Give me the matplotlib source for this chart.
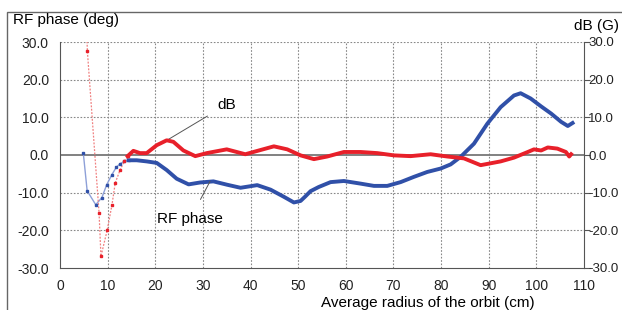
import matplotlib.pyplot as plt
from matplotlib.patches import Rectangle

plt.rcParams["font.family"] = ["Liberation Sans", "DejaVu Sans"]

# RF phase (deg) vs average radius (cm)
phase_r_sparse = [4.9, 5.7, 7.5, 8.8, 9.8, 10.9, 11.8, 12.6, 13.5, 14.4]
phase_sparse = [0.4, -9.5, -13.2, -11.3, -7.9, -5.2, -3.3, -2.3, -1.7, -1.4]
phase_r = [14.4, 16.1, 18.2, 20.3, 22.4, 24.5, 27.0, 29.4, 32.2, 35.1, 37.9,
           41.4, 44.2, 47.0, 49.1, 50.5, 51.5, 52.6, 54.3, 56.8, 59.6, 63.1,
           65.9, 68.7, 71.5, 74.3, 77.1, 79.9, 82.0, 84.1, 86.9, 89.7, 92.5,
           95.3, 96.7, 98.8, 101.0, 103.1, 105.2, 106.6, 107.6]
phase = [-1.4, -1.4, -1.7, -2.1, -4.0, -6.3, -7.8, -7.3, -7.0, -7.9, -8.7,
         -8.0, -9.2, -11.1, -12.6, -12.2, -11.0, -9.6, -8.5, -7.2, -6.9, -7.6,
         -8.2, -8.2, -7.2, -5.8, -4.5, -3.6, -2.5, -0.5, 3.0, 8.3, 12.7,
         15.8, 16.4, 15.0, 12.9, 11.0, 8.8, 7.7, 8.5]

# dB (G) vs average radius (cm)
db_r_sparse = [5.4, 5.75, 8.2, 8.6, 9.9, 10.9, 11.6, 12.6, 13.5, 14.2]
db_sparse = [40.0, 27.5, -15.4, -26.9, -20.0, -13.3, -7.4, -4.0, -1.7, -0.3]
db_r = [14.2, 15.4, 16.8, 18.2, 20.3, 22.4, 23.8, 25.9, 28.4, 30.8, 35.0,
        38.9, 40.6, 44.9, 47.7, 50.5, 53.3, 56.1, 59.6, 63.1, 66.6, 70.1,
        73.6, 77.8, 81.3, 84.8, 88.3, 92.5, 95.3, 98.2, 99.5, 101.0, 102.4,
        104.4, 106.2, 106.9, 107.3]
db = [-0.3, 1.1, 0.5, 0.5, 2.6, 3.9, 3.5, 1.2, -0.3, 0.5, 1.5,
      0.2, 0.8, 2.3, 1.5, -0.1, -1.1, -0.4, 0.8, 0.8, 0.5, -0.1,
      -0.3, 0.2, -0.4, -0.9, -2.7, -1.7, -0.7, 0.8, 1.5, 1.2, 2.0,
      1.7, 0.8, -0.4, 0.2]

x_ticks = list(range(0, 111, 10))
y_ticks = list(range(-30, 31, 10))

BLUE = "#3050a8"
RED = "#e8202a"

fig = plt.figure(figsize=(6.22, 3.10), dpi=100)
ax = fig.add_axes([60 / 622, 1 - 268 / 310, 524 / 622, 226 / 310])

# outer frame (cut off at right and bottom like the reference)
fig.patches.append(Rectangle((7 / 622, -0.1), 1.2, 1 - 12 / 310 + 0.1,
                             transform=fig.transFigure, fill=False,
                             edgecolor="#666666", linewidth=1.0))

ax.set_xlim(0, 110)
ax.set_ylim(-30, 30)
for x in x_ticks[1:-1]:
    ax.axvline(x, color="#888888", linestyle=(0, (1.5, 1.5)), linewidth=0.8, zorder=0)
for y in y_ticks[1:]:
    if y != 0:
        ax.axhline(y, color="#888888", linestyle=(0, (1.5, 1.5)), linewidth=0.8, zorder=0)
ax.axhline(0, color="#777777", linewidth=1.3, zorder=1)

ax.plot(phase_r_sparse, phase_sparse, color="#8ea0d8", linewidth=1.0, zorder=2)
ax.plot(phase_r_sparse, phase_sparse, "s", color=BLUE, markersize=2.0, zorder=3)
ax.plot(phase_r, phase, color=BLUE, linewidth=2.8, zorder=3)

ax.plot(db_r_sparse, db_sparse, color="#f08080", linewidth=0.9,
        linestyle=(0, (1.5, 1.2)), zorder=2)
ax.plot(db_r_sparse, db_sparse, "s", color=RED, markersize=2.0, zorder=4)
ax.plot(db_r, db, color=RED, linewidth=2.8, zorder=4)

ax.annotate("dB", xy=(22.7, 4.1), xytext=(35, 13.4), fontsize=11,
            ha="center", va="center",
            arrowprops=dict(arrowstyle="-", color="#555555", lw=0.7,
                            shrinkA=6, shrinkB=0))
ax.annotate("RF phase", xy=(31.5, -7.0), xytext=(27.3, -17.0), fontsize=11,
            ha="center", va="center",
            arrowprops=dict(arrowstyle="-", color="#555555", lw=0.7,
                            shrinkA=8, shrinkB=0))

ax.set_xticks(x_ticks)
ax.set_xticklabels([str(v) for v in x_ticks])
ax.set_yticks(y_ticks)
ax.set_yticklabels([f"{v:.1f}" for v in y_ticks])
ax.tick_params(axis="both", length=0, labelsize=10, pad=8, colors="#222222")

ax.spines["top"].set_visible(False)
ax.spines["right"].set_visible(False)
ax.spines["left"].set_color("#555555")
ax.spines["bottom"].set_color("#555555")

ax2 = ax.twinx()
ax2.set_ylim(-30, 30)
ax2.set_yticks(y_ticks)
ax2.set_yticklabels([f"{v:.1f}" for v in y_ticks])
ax2.tick_params(axis="y", direction="out", length=4, labelsize=9.5, pad=-1,
                colors="#555555", labelcolor="#222222")
for side in ["top", "left", "bottom"]:
    ax2.spines[side].set_visible(False)
ax2.spines["right"].set_color("#555555")

fig.text(13 / 622, 1 - 20 / 310, "RF phase (deg)", fontsize=11, va="center")
fig.text(619 / 622, 1 - 26 / 310, "dB (G)", fontsize=11, va="center", ha="right")
fig.text(428 / 622, 1 - 303 / 310, "Average radius of the orbit (cm)",
         fontsize=11, va="center", ha="center")

fig.savefig("out.png", dpi=100)
